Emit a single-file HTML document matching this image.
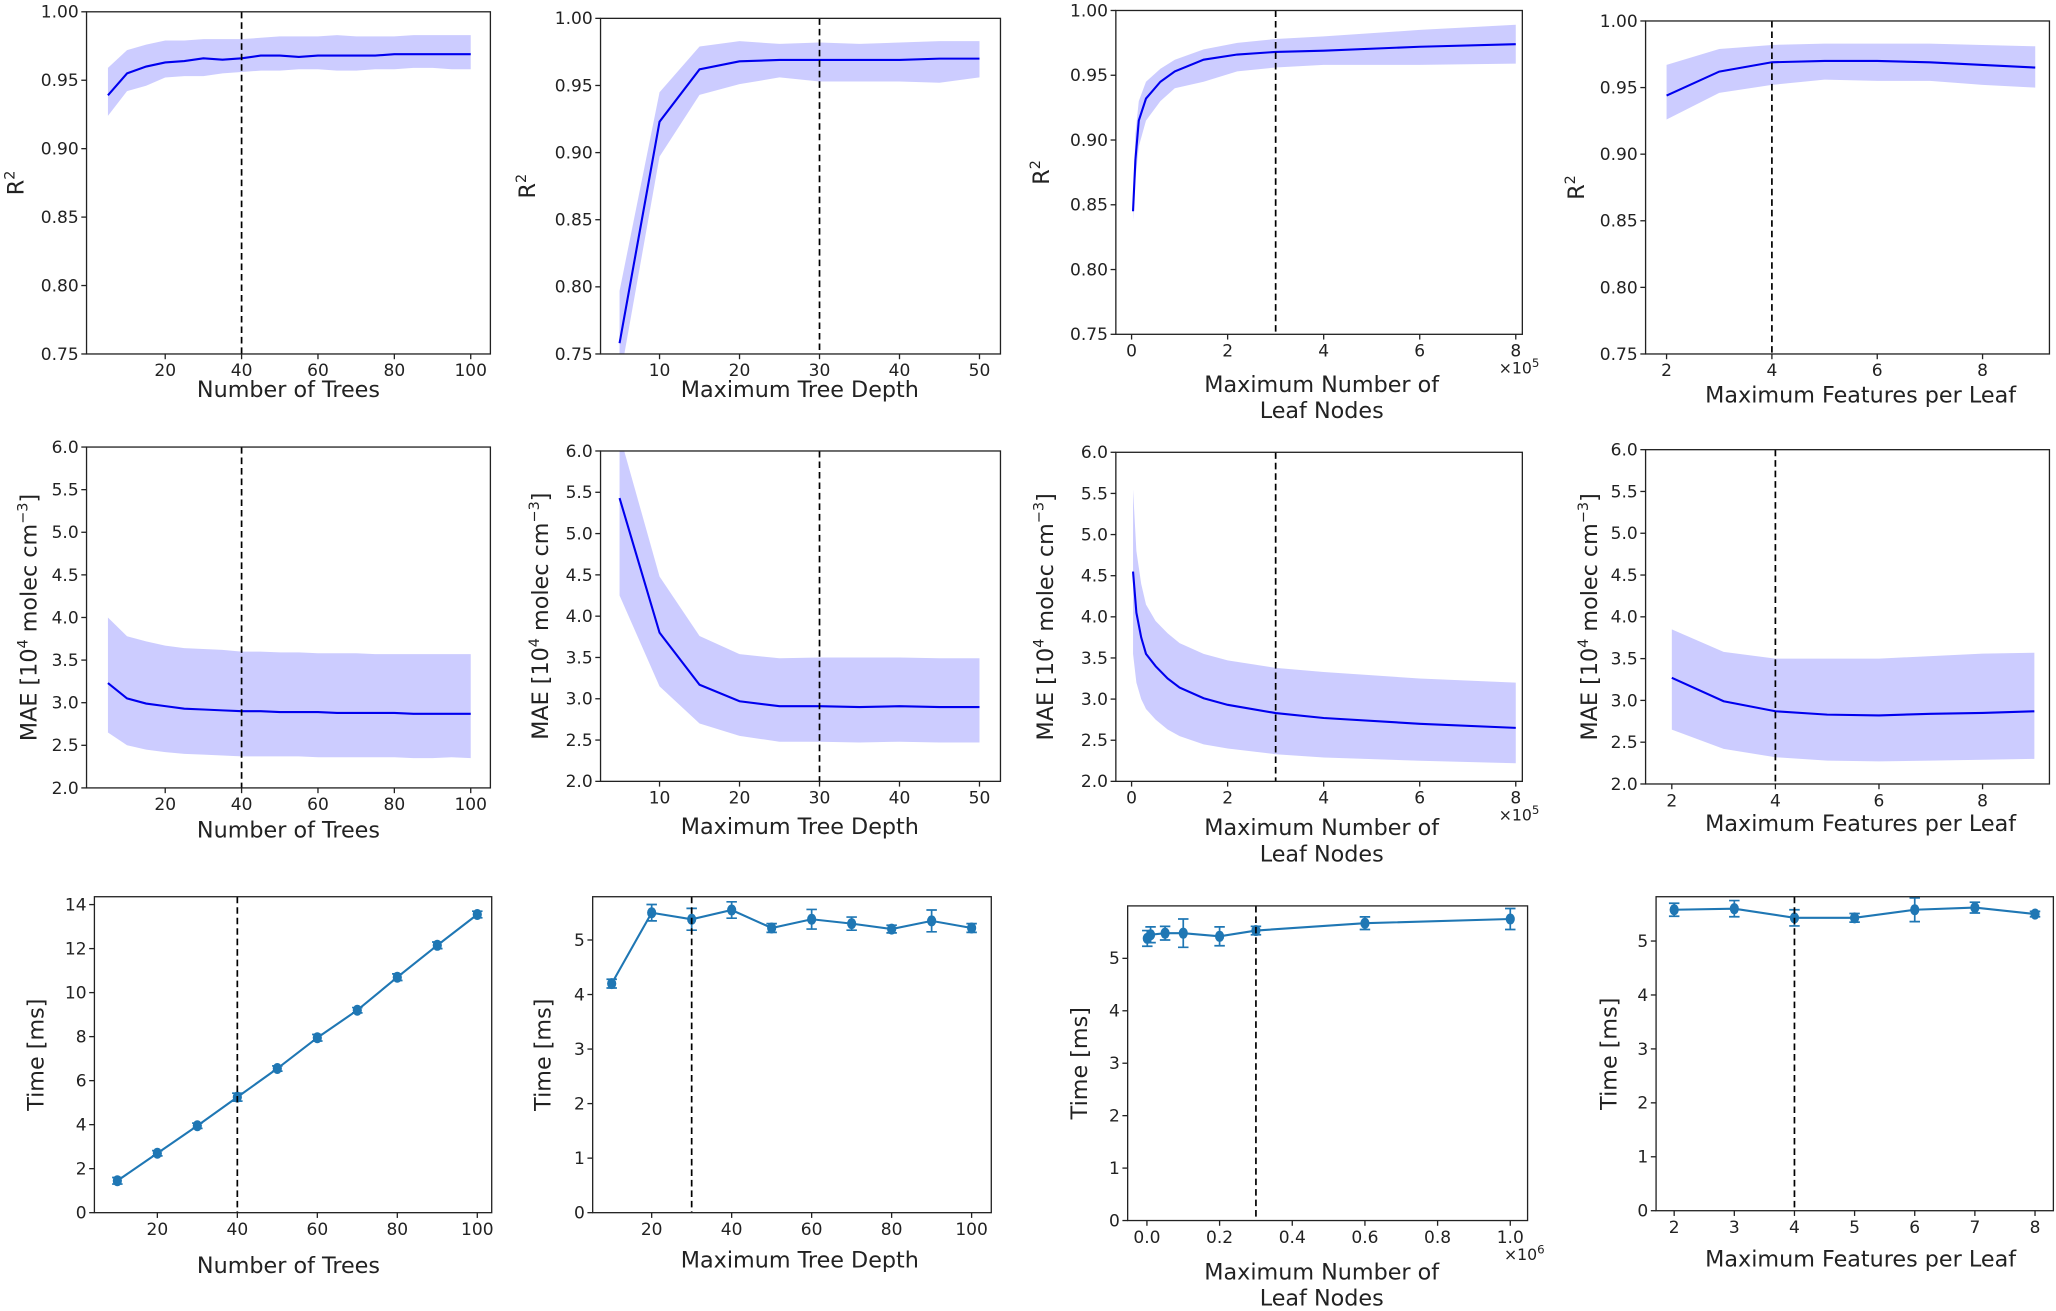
<!DOCTYPE html>
<html><head><meta charset="utf-8"><style>
html,body{margin:0;padding:0;background:#fff;}
svg{display:block;font-family:"DejaVu Sans","Liberation Sans",sans-serif;}
</style></head><body>
<svg id="fig" width="2056" height="1311" viewBox="0 0 1568 1000" preserveAspectRatio="none" xmlns="http://www.w3.org/2000/svg"></svg>
<script>
// ---- data ----
const treesX=[5,10,15,20,25,30,35,40,45,50,55,60,65,70,75,80,85,90,95,100];
const r2TreesMean=[0.939,0.955,0.960,0.963,0.964,0.966,0.965,0.966,0.968,0.968,0.967,0.968,0.968,0.968,0.968,0.969,0.969,0.969,0.969,0.969];
const r2TreesUp=[0.959,0.972,0.976,0.979,0.979,0.980,0.980,0.980,0.981,0.982,0.982,0.982,0.983,0.982,0.982,0.982,0.983,0.983,0.983,0.983];
const r2TreesLo=[0.924,0.942,0.946,0.952,0.953,0.953,0.955,0.956,0.957,0.957,0.958,0.958,0.957,0.957,0.958,0.958,0.959,0.959,0.958,0.958];
const depthX=[5,10,15,20,25,30,35,40,45,50];
const r2DepthMean=[0.758,0.923,0.962,0.968,0.969,0.969,0.969,0.969,0.970,0.970];
const r2DepthUp=[0.797,0.945,0.979,0.983,0.981,0.982,0.981,0.982,0.983,0.983];
const r2DepthLo=[0.730,0.897,0.943,0.951,0.956,0.953,0.953,0.953,0.952,0.956];
const leafX=[0.03,0.08,0.15,0.3,0.6,0.9,1.5,2.2,3,4,6,8];
const r2LeafMean=[0.845,0.885,0.915,0.932,0.945,0.953,0.962,0.966,0.968,0.969,0.972,0.974];
const r2LeafUp=[0.855,0.905,0.930,0.945,0.955,0.962,0.970,0.975,0.978,0.980,0.985,0.989];
const r2LeafLo=[0.838,0.870,0.895,0.915,0.930,0.940,0.945,0.953,0.956,0.958,0.958,0.959];
const featX=[2,3,4,5,6,7,8,9];
const r2FeatMean=[0.944,0.962,0.969,0.970,0.970,0.969,0.967,0.965];
const r2FeatUp=[0.967,0.979,0.982,0.983,0.983,0.983,0.982,0.981];
const r2FeatLo=[0.926,0.946,0.952,0.956,0.955,0.955,0.952,0.950];
const maeTreesMean=[3.23,3.05,2.99,2.96,2.93,2.92,2.91,2.90,2.90,2.89,2.89,2.89,2.88,2.88,2.88,2.88,2.87,2.87,2.87,2.87];
const maeTreesUp=[4.00,3.78,3.72,3.67,3.64,3.63,3.62,3.60,3.60,3.59,3.59,3.58,3.58,3.58,3.57,3.57,3.57,3.57,3.57,3.57];
const maeTreesLo=[2.65,2.50,2.45,2.42,2.40,2.39,2.38,2.37,2.37,2.37,2.37,2.36,2.36,2.36,2.36,2.36,2.35,2.35,2.36,2.35];
const maeDepthMean=[5.43,3.80,3.17,2.97,2.91,2.91,2.90,2.91,2.90,2.90];
const maeDepthUp=[6.2,4.48,3.76,3.54,3.49,3.50,3.50,3.50,3.49,3.49];
const maeDepthLo=[4.25,3.15,2.70,2.55,2.48,2.48,2.47,2.48,2.47,2.47];
const maeLeafX=[0.03,0.1,0.2,0.3,0.5,0.75,1,1.5,2,3,4,6,8];
const maeLeafMean=[4.55,4.05,3.75,3.55,3.40,3.25,3.14,3.01,2.93,2.83,2.77,2.70,2.65];
const maeLeafUp=[5.55,4.80,4.40,4.15,3.95,3.80,3.68,3.55,3.47,3.38,3.33,3.25,3.20];
const maeLeafLo=[3.55,3.20,3.00,2.88,2.75,2.63,2.55,2.45,2.40,2.33,2.29,2.25,2.22];
const maeFeatMean=[3.27,2.99,2.87,2.83,2.82,2.84,2.85,2.87];
const maeFeatUp=[3.85,3.58,3.50,3.50,3.50,3.53,3.56,3.57];
const maeFeatLo=[2.65,2.42,2.32,2.28,2.27,2.28,2.29,2.30];
const timeTreesX=[10,20,30,40,50,60,70,80,90,100];
const timeTrees=[1.45,2.7,3.95,5.25,6.55,7.95,9.2,10.7,12.15,13.55];
const timeTreesErr=[0.15,0.12,0.12,0.18,0.12,0.15,0.12,0.15,0.15,0.15];
const timeDepthX=[10,20,30,40,50,60,70,80,90,100];
const timeDepth=[4.2,5.5,5.38,5.55,5.22,5.38,5.3,5.2,5.35,5.22];
const timeDepthErr=[0.08,0.15,0.2,0.15,0.08,0.18,0.12,0.07,0.2,0.08];
const timeLeafX=[0.001,0.01,0.05,0.1,0.2,0.3,0.6,1.0];
const timeLeaf=[5.38,5.45,5.48,5.48,5.42,5.53,5.67,5.75];
const timeLeafErr=[0.15,0.15,0.13,0.27,0.18,0.08,0.12,0.2];
const timeFeatX=[2,3,4,5,6,7,8];
const timeFeat=[5.58,5.6,5.43,5.43,5.58,5.62,5.5];
const timeFeatErr=[0.12,0.15,0.15,0.08,0.22,0.1,0.05];
const r2Ticks=[0.75,0.80,0.85,0.90,0.95,1.00];
const maeTicks=[2.0,2.5,3.0,3.5,4.0,4.5,5.0,5.5,6.0];

const NS="http://www.w3.org/2000/svg";
const svg=document.getElementById('fig');
function el(tag,attrs,parent,text){const e=document.createElementNS(NS,tag);for(const k in attrs)e.setAttribute(k,attrs[k]);if(text!==undefined)e.textContent=text;(parent||svg).appendChild(e);return e;}

// panel: box {l,r,t,b}, x calib [v1,p1,v2,p2], y calib [v1,p1,v2,p2]
function panel(p){
  const g=el('g',{});
  
  
  const sx=v=>p.xc[1]+(v-p.xc[0])*(p.xc[3]-p.xc[1])/(p.xc[2]-p.xc[0]);
  const sy=v=>p.yc[1]+(v-p.yc[0])*(p.yc[3]-p.yc[1])/(p.yc[2]-p.yc[0]);
  const cid='clip'+p.name;
  const cp=el('clipPath',{id:cid},g);
  el('rect',{x:p.l,y:p.t,width:p.r-p.l,height:p.b-p.t},cp);
  const plot=el('g',{'clip-path':'url(#'+cid+')'},g);
  if(p.up){
    let d='';
    p.x.forEach((v,i)=>{d+=(i?'L':'M')+sx(v).toFixed(2)+','+sy(p.up[i]).toFixed(2);});
    for(let i=p.x.length-1;i>=0;i--)d+='L'+sx(p.x[i]).toFixed(2)+','+sy(p.lo[i]).toFixed(2);
    const band=el('path',{d:d+'Z',fill:'rgba(0,0,255,0.2)',stroke:'none'},plot);
    
    
    const ln=el('polyline',{points:p.x.map((v,i)=>sx(v).toFixed(2)+','+sy(p.y[i]).toFixed(2)).join(' '),fill:'none',stroke:'#0000ee','stroke-width':1.6},plot);
    
    
  } else {
    const ln=el('polyline',{points:p.x.map((v,i)=>sx(v).toFixed(2)+','+sy(p.y[i]).toFixed(2)).join(' '),fill:'none',stroke:'#1f77b4','stroke-width':1.6},plot);
    
    
    p.x.forEach((v,i)=>{
      const X=sx(v),y1=sy(p.y[i]+p.err[i]),y2=sy(p.y[i]-p.err[i]);
      el('line',{x1:X,x2:X,y1:y1,y2:y2,stroke:'#1f77b4','stroke-width':1.3},plot);
      el('line',{x1:X-4,x2:X+4,y1:y1,y2:y1,stroke:'#1f77b4','stroke-width':1.3},plot);
      el('line',{x1:X-4,x2:X+4,y1:y2,y2:y2,stroke:'#1f77b4','stroke-width':1.3},plot);
      const m=el('ellipse',{cx:X,cy:sy(p.y[i]),rx:3.5,ry:4.2,fill:'#1f77b4'},plot);
      
      
    });
  }
  const dl=el('line',{x1:sx(p.vline),x2:sx(p.vline),y1:p.t,y2:p.b,stroke:'#000','stroke-width':1.3,'stroke-dasharray':'5,3'},g);
  
  
  el('rect',{x:p.l,y:p.t,width:p.r-p.l,height:p.b-p.t,fill:'none',stroke:'#222','stroke-width':1},g);
  p.xt.forEach((v,i)=>{const X=sx(v);el('line',{x1:X,x2:X,y1:p.b,y2:p.b+4,stroke:'#222'},g);
    const t=el('text',{x:X,y:p.b+17,'font-size':13,'text-anchor':'middle',fill:'#222'},g,p.xtl[i]);
    });
  p.yt.forEach((v,i)=>{const Y=sy(v);el('line',{x1:p.l-4,x2:p.l,y1:Y,y2:Y,stroke:'#222'},g);
    const t=el('text',{x:p.l-6,y:Y+4.5,'font-size':13,'text-anchor':'end',fill:'#222'},g,p.ytl[i]);
    });
  const xl=el('text',{x:p.xlx,y:p.xly,'font-size':17,'text-anchor':'middle',fill:'#222'},g);
  
  p.xlabel.forEach((s,i)=>el('tspan',{x:p.xlx,dy:i?20:0},xl,s));
  if(p.mult){const m=el('text',{x:p.r-18,y:p.b+30,'font-size':12,fill:'#222'},g);
    
    el('tspan',{},m,'×10');el('tspan',{dy:-5,'font-size':9},m,p.mult);}
  const cy=(p.t+p.b)/2;
  const yl=el('text',{x:p.ylx,y:cy,'font-size':17,'text-anchor':'middle',fill:'#222',transform:'rotate(-90 '+p.ylx+' '+cy+')'},g);
  
  if(p.ykind==='r2'){el('tspan',{},yl,'R');el('tspan',{dy:-7,'font-size':11},yl,'2');}
  else if(p.ykind==='mae'){el('tspan',{},yl,'MAE [10');el('tspan',{dy:-7,'font-size':11},yl,'4');el('tspan',{dy:7},yl,' molec cm');el('tspan',{dy:-7,'font-size':11},yl,'−3');el('tspan',{dy:7},yl,']');}
  else yl.textContent='Time [ms]';
}
const f2=a=>a.map(v=>v.toFixed(2)), f1=a=>a.map(v=>v.toFixed(1)), s=a=>a.map(String);
const cols=[
 {l:66,r:374,xc:[20,126,100,359],xt:[20,40,60,80,100],xtl:s([20,40,60,80,100]),xlabel:['Number of Trees'],xlx:220,vline:40},
 {l:458,r:763,xc:[10,503,50,747],xt:[10,20,30,40,50],xtl:s([10,20,30,40,50]),xlabel:['Maximum Tree Depth'],xlx:610,vline:30},
 {l:851,r:1161,xc:[0,863,8,1156],xt:[0,2,4,6,8],xtl:s([0,2,4,6,8]),xlabel:['Maximum Number of','Leaf Nodes'],xlx:1008,vline:3,mult:'5'},
 {l:1255,r:1563,xc:[2,1271,8,1512],xt:[2,4,6,8],xtl:s([2,4,6,8]),xlabel:['Maximum Features per Leaf'],xlx:1419,vline:4}
];
// row 1
panel(Object.assign({},cols[0],{name:'r2-trees',t:9,b:270,yc:[0.75,270,1,9],yt:r2Ticks,ytl:f2(r2Ticks),x:treesX,y:r2TreesMean,up:r2TreesUp,lo:r2TreesLo,xly:303,ylx:18,ykind:'r2'}));
panel(Object.assign({},cols[1],{name:'r2-depth',t:14,b:270,yc:[0.75,270,1,14],yt:r2Ticks,ytl:f2(r2Ticks),x:depthX,y:r2DepthMean,up:r2DepthUp,lo:r2DepthLo,xly:303,ylx:408,ykind:'r2'}));
panel(Object.assign({},cols[2],{name:'r2-leaf',t:8,b:255,yc:[0.75,255,1,8],yt:r2Ticks,ytl:f2(r2Ticks),x:leafX,y:r2LeafMean,up:r2LeafUp,lo:r2LeafLo,xly:299,ylx:800,ykind:'r2'}));
panel(Object.assign({},cols[3],{name:'r2-features',t:16,b:270,yc:[0.75,270,1,16],yt:r2Ticks,ytl:f2(r2Ticks),x:featX,y:r2FeatMean,up:r2FeatUp,lo:r2FeatLo,xly:307,ylx:1208,ykind:'r2'}));
// row 2
panel(Object.assign({},cols[0],{name:'mae-trees',t:341,b:601,yc:[2,601,6,341],yt:maeTicks,ytl:f1(maeTicks),x:treesX,y:maeTreesMean,up:maeTreesUp,lo:maeTreesLo,xly:639,ylx:28,ykind:'mae'}));
panel(Object.assign({},cols[1],{name:'mae-depth',t:344,b:596,yc:[2,596,6,344],yt:maeTicks,ytl:f1(maeTicks),x:depthX,y:maeDepthMean,up:maeDepthUp,lo:maeDepthLo,xly:636,ylx:418,ykind:'mae'}));
panel(Object.assign({},cols[2],{name:'mae-leaf',t:345,b:596,yc:[2,596,6,345],yt:maeTicks,ytl:f1(maeTicks),x:maeLeafX,y:maeLeafMean,up:maeLeafUp,lo:maeLeafLo,xly:637,ylx:803,ykind:'mae'}));
panel(Object.assign({},cols[3],{name:'mae-features',xc:[2,1275,8,1512],t:343,b:598,yc:[2,598,6,343],yt:maeTicks,ytl:f1(maeTicks),x:featX,y:maeFeatMean,up:maeFeatUp,lo:maeFeatLo,xly:634,ylx:1218,ykind:'mae'}));
// row 3
const tT=[0,2,4,6,8,10,12,14], t5=[0,1,2,3,4,5];
panel({name:'time-trees',l:72,r:375,t:684,b:925,xc:[20,120,100,364],yc:[0,925,14,690],xt:[20,40,60,80,100],xtl:s([20,40,60,80,100]),yt:tT,ytl:s(tT),x:timeTreesX,y:timeTrees,err:timeTreesErr,vline:40,xlabel:['Number of Trees'],xlx:220,xly:971,ylx:33,ykind:'time'});
panel({name:'time-depth',l:452,r:756,t:684,b:925,xc:[20,497,100,741],yc:[0,925,5,717],xt:[20,40,60,80,100],xtl:s([20,40,60,80,100]),yt:t5,ytl:s(t5),x:timeDepthX,y:timeDepth,err:timeDepthErr,vline:30,xlabel:['Maximum Tree Depth'],xlx:610,xly:967,ylx:420,ykind:'time'});
panel({name:'time-leaf',l:860,r:1165,t:691,b:931,xc:[0,874.7,1,1151.8],yc:[0,931,5,731],xt:[0,0.2,0.4,0.6,0.8,1.0],xtl:f1([0,0.2,0.4,0.6,0.8,1.0]),yt:t5,ytl:s(t5),x:timeLeafX,y:timeLeaf,err:timeLeafErr,vline:0.3,xlabel:['Maximum Number of','Leaf Nodes'],xlx:1008,xly:976,ylx:829,ykind:'time',mult:'6'});
panel({name:'time-features',l:1263,r:1566,t:684,b:923.5,xc:[2,1276.8,8,1552],yc:[0,923.5,5,717.8],xt:[2,3,4,5,6,7,8],xtl:s([2,3,4,5,6,7,8]),yt:t5,ytl:s(t5),x:timeFeatX,y:timeFeat,err:timeFeatErr,vline:4,xlabel:['Maximum Features per Leaf'],xlx:1419,xly:966,ylx:1233,ykind:'time'});
</script>
</body></html>
